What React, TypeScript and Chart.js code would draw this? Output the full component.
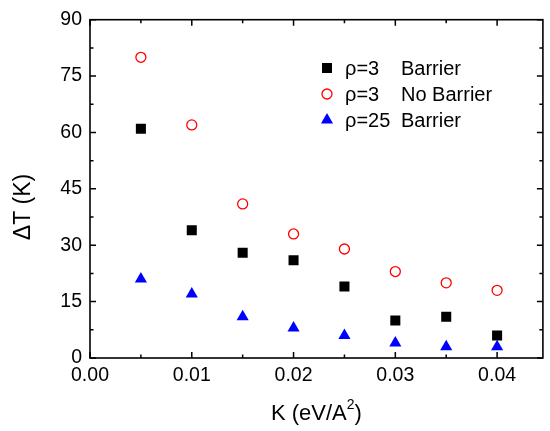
import React, { useEffect, useRef } from "react";
import { Chart, registerables } from "chart.js";

Chart.register(...registerables);

const kValues = [0.005, 0.01, 0.015, 0.02, 0.025, 0.03, 0.035, 0.04];
const rho3Barrier = [61, 34, 28, 26, 19, 10, 11, 6];
const rho3NoBarrier = [80, 62, 41, 33, 29, 23, 20, 18];
const rho25Barrier = [21, 17, 11, 8, 6, 4, 3, 3];
const seriesLabels = ["ρ=3   Barrier", "ρ=3   No Barrier", "ρ=25 Barrier"];
const xMin = 0;
const xMax = 0.0445;
const xStep = 0.01;
const yMin = 0;
const yMax = 90;
const yStep = 15;
const xTitle = "K (eV/A";
const xTitleSup = "2";
const yTitle = "ΔT (K)";

const FONT = "'Liberation Sans', Arial, sans-serif";

const toPoints = (ys: number[]) => kValues.map((k, i) => ({ x: k, y: ys[i] }));

function drawSymbol(ctx: CanvasRenderingContext2D, style: string, x: number, y: number, color: string) {
  ctx.save();
  ctx.beginPath();
  if (style === "rect") {
    ctx.fillStyle = color;
    ctx.fillRect(x - 5, y - 5, 10, 10);
  } else if (style === "circle") {
    ctx.strokeStyle = color;
    ctx.lineWidth = 1.3;
    ctx.arc(x, y, 5, 0, Math.PI * 2);
    ctx.stroke();
  } else {
    ctx.fillStyle = color;
    const r = 7;
    ctx.moveTo(x, y - r);
    ctx.lineTo(x + r * Math.sin((2 * Math.PI) / 3), y + r / 2);
    ctx.lineTo(x - r * Math.sin((2 * Math.PI) / 3), y + r / 2);
    ctx.closePath();
    ctx.fill();
  }
  ctx.restore();
}

const framePlugin = {
  id: "frame",
  afterDraw(chart: any) {
    const { ctx, chartArea } = chart;
    const { left, right, top, bottom } = chartArea;
    const xs = chart.scales.x;
    const ys = chart.scales.y;
    ctx.save();
    ctx.strokeStyle = "#000";
    ctx.lineWidth = 1.6;
    ctx.strokeRect(left, top, right - left, bottom - top);
    ctx.lineWidth = 1.5;
    const nx = Math.floor((xMax - xMin) / (xStep / 2) + 1e-6);
    for (let i = 0; i <= nx; i++) {
      const v = xMin + (i * xStep) / 2;
      const px = xs.getPixelForValue(v);
      const len = i % 2 === 0 ? 6 : 3.5;
      ctx.beginPath();
      ctx.moveTo(px, bottom);
      ctx.lineTo(px, bottom - len);
      ctx.moveTo(px, top);
      ctx.lineTo(px, top + len);
      ctx.stroke();
    }
    const ny = Math.floor((yMax - yMin) / (yStep / 2) + 1e-6);
    for (let i = 0; i <= ny; i++) {
      const v = yMin + (i * yStep) / 2;
      const py = ys.getPixelForValue(v);
      const len = i % 2 === 0 ? 6 : 3.5;
      ctx.beginPath();
      ctx.moveTo(left, py);
      ctx.lineTo(left + len, py);
      ctx.moveTo(right, py);
      ctx.lineTo(right - len, py);
      ctx.stroke();
    }

    // axis titles
    ctx.fillStyle = "#000";
    ctx.textBaseline = "middle";
    ctx.font = `22px ${FONT}`;
    const mainW = ctx.measureText(xTitle).width;
    ctx.font = `14px ${FONT}`;
    const supW = ctx.measureText(xTitleSup).width;
    ctx.font = `22px ${FONT}`;
    const closeW = ctx.measureText(")").width;
    const total = mainW + supW + closeW;
    const cx = (left + right) / 2;
    let tx = cx - total / 2;
    const ty = 414;
    ctx.textAlign = "left";
    ctx.fillText(xTitle, tx, ty);
    tx += mainW;
    ctx.font = `14px ${FONT}`;
    ctx.fillText(xTitleSup, tx, ty - 9);
    tx += supW;
    ctx.font = `22px ${FONT}`;
    ctx.fillText(")", tx, ty);

    ctx.save();
    ctx.translate(24, 207);
    ctx.rotate(-Math.PI / 2);
    ctx.textAlign = "center";
    ctx.font = `23px ${FONT}`;
    ctx.fillText(yTitle, 0, 0);
    ctx.restore();

    // legend
    const lx = 327;
    const ly = [68, 94, 120];
    const col2 = 401;
    chart.data.datasets.forEach((ds: any, i: number) => {
      const color = ds.pointStyle === "circle" ? ds.pointBorderColor : ds.pointBackgroundColor;
      drawSymbol(ctx, ds.pointStyle, lx, ly[i], color);
      ctx.fillStyle = "#000";
      ctx.textAlign = "left";
      ctx.textBaseline = "middle";
      ctx.font = `20px ${FONT}`;
      const label: string = ds.label;
      const m = label.match(/^(\S+)\s+(.*)$/);
      if (m) {
        ctx.fillText(m[1], lx + 18, ly[i] + 1);
        ctx.fillText(m[2], col2, ly[i] + 1);
      } else {
        ctx.fillText(label, lx + 18, ly[i] + 1);
      }
    });
    ctx.restore();
  },
};

export default function App() {
  const ref = useRef<HTMLCanvasElement | null>(null);
  useEffect(() => {
    document.body.style.margin = "0";
    const canvas = ref.current!;
    const chart = new Chart(canvas, {
      type: "scatter",
      data: {
        datasets: [
          {
            label: seriesLabels[0],
            data: toPoints(rho3Barrier),
            pointStyle: "rect",
            pointRadius: 7.1,
            pointBackgroundColor: "#000000",
            pointBorderColor: "#000000",
            pointBorderWidth: 0,
          },
          {
            label: seriesLabels[1],
            data: toPoints(rho3NoBarrier),
            pointStyle: "circle",
            pointRadius: 5,
            pointBackgroundColor: "rgba(0,0,0,0)",
            pointBorderColor: "#ff0000",
            pointBorderWidth: 1.3,
          },
          {
            label: seriesLabels[2],
            data: toPoints(rho25Barrier),
            pointStyle: "triangle",
            pointRadius: 7,
            pointBackgroundColor: "#0000ff",
            pointBorderColor: "#0000ff",
            pointBorderWidth: 0,
          },
        ],
      },
      options: {
        animation: false,
        responsive: false,
        maintainAspectRatio: false,
        layout: { padding: { top: 15, right: 4, left: 0, bottom: 0 } },
        plugins: { legend: { display: false }, tooltip: { enabled: false } },
        scales: {
          x: {
            type: "linear",
            min: xMin,
            max: xMax,
            grid: { display: false, drawTicks: false },
            border: { display: false },
            ticks: {
              stepSize: xStep,
              includeBounds: false,
              padding: 6,
              color: "#000",
              maxRotation: 0,
              font: { family: FONT, size: 19.5 },
              callback: (v: any) => Number(v).toFixed(2),
            },
            afterFit: (s: any) => {
              s.height = 73;
            },
          },
          y: {
            type: "linear",
            min: yMin,
            max: yMax,
            grid: { display: false, drawTicks: false },
            border: { display: false },
            ticks: {
              stepSize: yStep,
              padding: 8,
              color: "#000",
              font: { family: FONT, size: 19.5 },
            },
            afterFit: (s: any) => {
              s.width = 90;
            },
          },
        },
      },
      plugins: [framePlugin],
    });
    return () => chart.destroy();
  }, []);
  return <canvas ref={ref} width={550} height={431} style={{ display: "block" }} />;
}
